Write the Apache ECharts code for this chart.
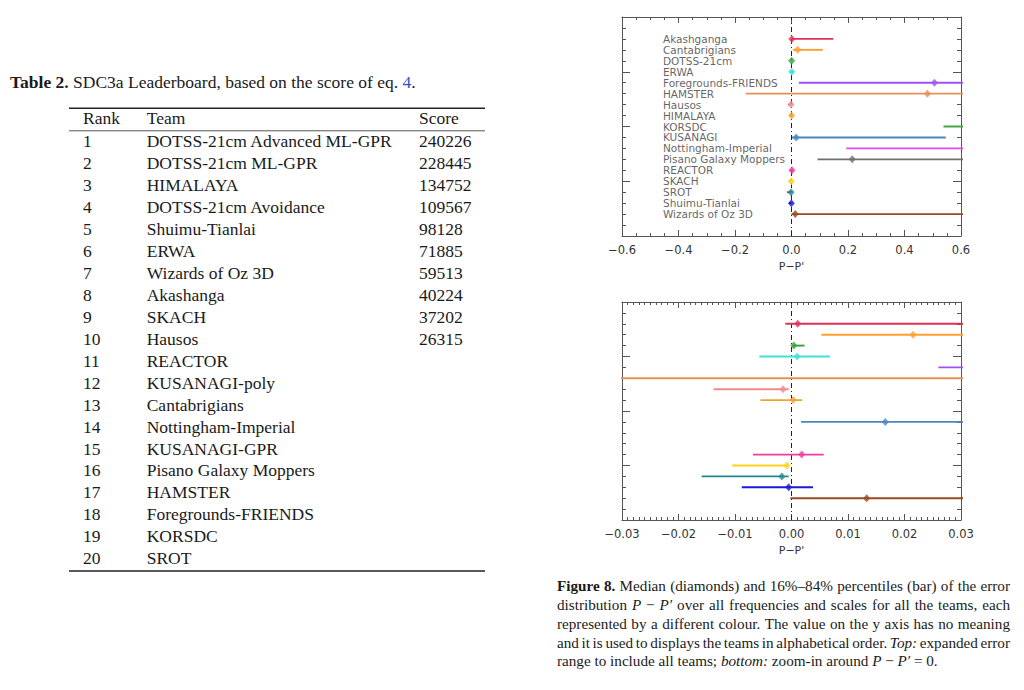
<!DOCTYPE html>
<html><head><meta charset="utf-8">
<script src="https://cdn.jsdelivr.net/npm/echarts@6/dist/echarts.min.js"></script>
<style>html,body{margin:0;padding:0;background:#fff}#c{width:1024px;height:690px}</style>
</head><body><div id="c"></div>
<script>
// ---------- figure data (teams in alphabetical order, top to bottom) ----------
const teams = ['Akashganga','Cantabrigians','DOTSS-21cm','ERWA','Foregrounds-FRIENDS','HAMSTER','Hausos','HIMALAYA','KORSDC','KUSANAGI','Nottingham-Imperial','Pisano Galaxy Moppers','REACTOR','SKACH','SROT','Shuimu-Tianlai','Wizards of Oz 3D'];
const p16 = [-0.0011, 0.0053, 0.0002, -0.0057, 0.026, -0.162, -0.0138, -0.0055, 0.538, 0.0017, 0.194, 0.092, -0.0068, -0.0105, -0.0159, -0.0088, -0.0002];
const p50 = [0.0011, 0.0215, 0.0004, 0.0010, 0.506, 0.481, -0.0015, 0.0003, 0.75, 0.0166, 0.70, 0.215, 0.0018, -0.0008, -0.0017, -0.0005, 0.0133];
const p84 = [0.148, 0.111, 0.0023, 0.0068, 0.75, 0.75, -0.0005, 0.0019, 0.95, 0.546, 0.95, 0.70, 0.0057, -0.0006, -0.0005, 0.0038, 0.70];
const teamColors = ['#e0305a','#ff9f2e','#34a03a','#40e0d8','#a052f0','#e98f55','#f28a8a','#f0a32a','#44a844','#4a86c0','#f040f0','#707070','#f03ca0','#ffd21a','#24888f','#1a1ad8','#9a4a1e'];
const topXTicks = {min: -0.6, max: 0.6, interval: 0.2, minor: 4, dec: 1};
const botXTicks = {min: -0.03, max: 0.03, interval: 0.01, minor: 10, dec: 2};

// ---------- table data ----------
const tableRanks = ['1','2','3','4','5','6','7','8','9','10','11','12','13','14','15','16','17','18','19','20'];
const tableTeams = ['DOTSS-21cm Advanced ML-GPR','DOTSS-21cm ML-GPR','HIMALAYA','DOTSS-21cm Avoidance','Shuimu-Tianlai','ERWA','Wizards of Oz 3D','Akashanga','SKACH','Hausos','REACTOR','KUSANAGI-poly','Cantabrigians','Nottingham-Imperial','KUSANAGI-GPR','Pisano Galaxy Moppers','HAMSTER','Foregrounds-FRIENDS','KORSDC','SROT'];
const tableScores = ['240226','228445','134752','109567','98128','71885','59513','40224','37202','26315','','','','','','','','','',''];
const captionLines = [
  '*Figure* *8.* Median (diamonds) and 16%–84% percentiles (bar) of the error',
  'distribution _P_ − _P′_ over all frequencies and scales for all the teams, each',
  'represented by a different colour. The value on the y axis has no meaning',
  'and it is used to displays the teams in alphabetical order. _Top:_ expanded error',
  'range to include all teams; _bottom:_ zoom-in around _P_ − _P′_ = 0.'
];

// ---------- helpers ----------
const SERIF = 'Liberation Serif';
const SANS = 'DejaVu Sans';
const mctx = document.createElement('canvas').getContext('2d');
function fstr(size, bold, ital){ return (ital?'italic ':'') + (bold?'bold ':'') + size + 'px "' + SERIF + '"'; }
function mw(text, size, bold, ital){ mctx.font = fstr(size, bold, ital); return mctx.measureText(text).width; }
function txt(text, x, baseline, size, opts){
  opts = opts || {};
  return {type:'text', x: x, y: baseline - 0.34*size, silent:true,
    style:{text: text, fontSize: size, fontFamily: opts.family || SERIF, fontWeight: opts.bold?'bold':'normal',
      fontStyle: opts.ital?'italic':'normal', fill: opts.fill || '#1a1a1a', align: opts.align || 'left', verticalAlign:'middle'}};
}
function tickFmt(dec){ return function(v){ if (Math.abs(v) < 1e-9) return (0).toFixed(dec); return (v<0?'\u2212':'') + Math.abs(v).toFixed(dec); }; }

const graphics = [];
// table caption
(function(){
  const fs = 17.5, base = 88; let x = 10;
  graphics.push(txt('Table 2.', x, base, fs, {bold:true})); x += mw('Table 2. ', fs, true, false);
  const mid = 'SDC3a Leaderboard, based on the score of eq.';
  graphics.push(txt(mid, x, base, fs)); x += mw(mid + ' ', fs);
  graphics.push(txt('4', x, base, fs, {fill:'#3a4fc8'})); x += mw('4', fs);
  graphics.push(txt('.', x, base, fs));
})();
// table
(function(){
  const fs = 17.5, x0 = 69, x1 = 485;
  graphics.push({type:'line', silent:true, shape:{x1:x0, y1:108.3, x2:x1, y2:108.3}, style:{stroke:'#222', lineWidth:1.4}});
  graphics.push({type:'line', silent:true, shape:{x1:x0, y1:130.8, x2:x1, y2:130.8}, style:{stroke:'#444', lineWidth:0.9}});
  graphics.push({type:'line', silent:true, shape:{x1:x0, y1:571, x2:x1, y2:571}, style:{stroke:'#222', lineWidth:1.4}});
  graphics.push(txt('Rank', 83, 124.3, fs));
  graphics.push(txt('Team', 146.7, 124.3, fs));
  graphics.push(txt('Score', 419, 124.3, fs));
  tableRanks.forEach(function(r, i){
    const b = 147.3 + i*21.94;
    graphics.push(txt(r, 83, b, fs));
    graphics.push(txt(tableTeams[i], 146.7, b, fs));
    if (tableScores[i]) graphics.push(txt(tableScores[i], 419, b, fs));
  });
})();
// figure caption (justified)
(function(){
  const left = 557, right = 1010, base0 = 591, lead = 18.75;
  const parse = function(line){ return line.split(' ').map(function(w){
    if (w.length>2 && w[0]==='*' && w[w.length-1]==='*') return {t:w.slice(1,-1), b:true, i:false};
    if (w.length>2 && w[0]==='_' && w[w.length-1]==='_') return {t:w.slice(1,-1), b:false, i:true};
    return {t:w, b:false, i:false}; }); };
  const lastWords = parse(captionLines[4]);
  const lastW = lastWords.reduce(function(s,w){ return s + mw(w.t, 10, w.b, w.i); }, 0) + (lastWords.length-1)*mw(' ', 10);
  const fs = 10 * 381 / lastW;
  captionLines.forEach(function(line, li){
    const words = parse(line);
    const widths = words.map(function(w){ return mw(w.t, fs, w.b, w.i); });
    const total = widths.reduce(function(a,b){return a+b;}, 0);
    const last = li === captionLines.length-1;
    const gap = last ? mw(' ', fs) : (right-left-total)/(words.length-1);
    let x = left;
    words.forEach(function(w, k){
      graphics.push(txt(w.t, x, base0 + li*lead, fs, {bold:w.b, ital:w.i}));
      x += widths[k] + gap;
    });
  });
})();

// ---------- axes ----------
const frame = '#555';
function xAx(g, pos, t, labels){
  return {type:'value', gridIndex:g, position:pos, min:t.min, max:t.max, interval:t.interval,
    axisLine:{show:true, onZero:false, lineStyle:{color:frame, width:1}},
    axisTick:{show:true, inside:true, length:6, lineStyle:{color:frame, width:1}},
    minorTick:{show:true, splitNumber:t.minor, length:3, lineStyle:{color:frame, width:1}},
    splitLine:{show:false}, minorSplitLine:{show:false},
    axisLabel:{show:labels, margin:8, color:'#333', fontSize:11.5, fontFamily:SANS, formatter:tickFmt(t.dec), hideOverlap:false},
    name: labels ? 'P\u2212P\'' : '', nameLocation:'middle', nameGap:25,
    nameTextStyle:{color:'#333', fontSize:11, fontFamily:SANS}};
}
function yAx(g, pos){
  return {type:'value', gridIndex:g, position:pos, min:0, max:20, interval:5,
    axisLine:{show:true, onZero:false, lineStyle:{color:frame, width:1}},
    axisTick:{show:true, inside:true, length:8, lineStyle:{color:frame, width:1}},
    minorTick:{show:true, splitNumber:5, length:4, lineStyle:{color:frame, width:1}},
    splitLine:{show:false}, axisLabel:{show:false}};
}

// ---------- series ----------
const series = [];
[0,1].forEach(function(g){
  const xi = 2*g, yi = 2*g;
  series.push({type:'line', xAxisIndex:xi, yAxisIndex:yi, data:[[0,0],[0,20]], symbol:'none', silent:true, z:1,
    lineStyle:{color:'#222', width:1, type:[5,3,1,3]}, animation:false});
  teams.forEach(function(t, i){
    series.push({type:'line', xAxisIndex:xi, yAxisIndex:yi, data:[[p16[i], 18-i],[p84[i], 18-i]], symbol:'none', clip:true, silent:true, z:2,
      lineStyle:{color:teamColors[i], width:1.9}, animation:false});
  });
  series.push({type:'scatter', xAxisIndex:xi, yAxisIndex:yi, clip:true, symbol:'diamond', symbolSize:[7,8], z:3, silent:true, animation:false,
    data: teams.map(function(t,i){ return {value:[p50[i], 18-i], itemStyle:{color:teamColors[i]}}; })});
  if (g === 0) {
    series.push({type:'scatter', xAxisIndex:xi, yAxisIndex:yi, symbolSize:0, silent:true, z:4, animation:false,
      data: teams.map(function(t,i){ return [-0.455, 18-i]; }),
      label:{show:true, position:'right', distance:0, color:'#3a3a3a', fontSize:10.5, fontFamily:SANS,
        formatter:function(p){ return teams[p.dataIndex]; }}});
  }
});

const chart = echarts.init(document.getElementById('c'), null, {renderer:'svg'});
chart.setOption({
  animation:false,
  backgroundColor:'#fff',
  grid:[{left:622, top:17, width:339, height:219}, {left:622, top:302, width:339, height:218}],
  xAxis:[xAx(0,'bottom',topXTicks,true), xAx(0,'top',topXTicks,false), xAx(1,'bottom',botXTicks,true), xAx(1,'top',botXTicks,false)],
  yAxis:[yAx(0,'left'), yAx(0,'right'), yAx(1,'left'), yAx(1,'right')],
  series: series,
  graphic: graphics
});
</script></body></html>
